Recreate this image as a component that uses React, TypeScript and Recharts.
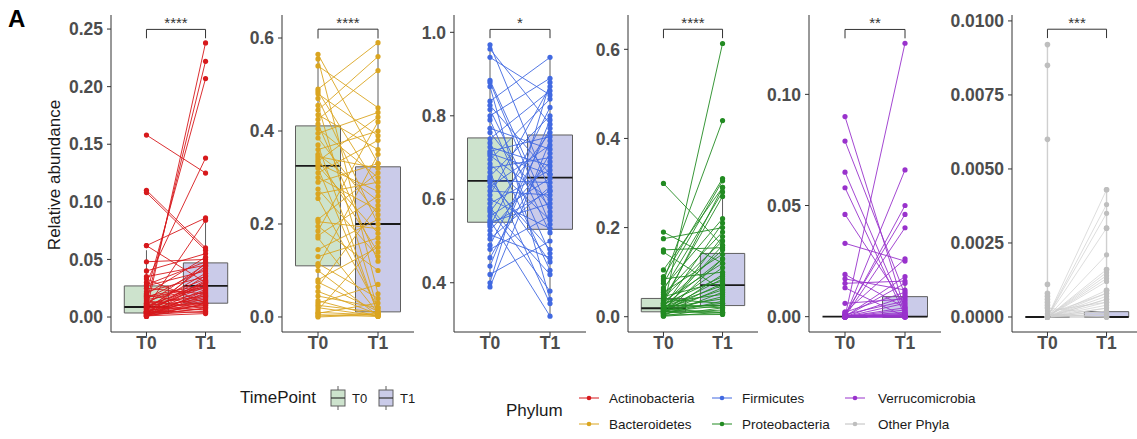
import React from 'react';
import { LineChart, Line, XAxis, YAxis, ReferenceArea, ReferenceLine } from 'recharts';

const FONT = '"Liberation Sans", Arial, Helvetica, sans-serif';

// ---------- data ----------
const timePoints = ['T0', 'T1'];
const phyla = ['Actinobacteria', 'Bacteroidetes', 'Firmicutes', 'Proteobacteria', 'Verrucomicrobia', 'Other Phyla'];
const phylumColors = ['#D7191C', '#DAA520', '#4169E1', '#228B22', '#9932CC', '#BEBEBE'];
const significance = ['****', '****', '*', '****', '**', '***'];

const actinoT0 = [0.158, 0.110, 0.108, 0.005, 0.012, 0.020, 0.030, 0.062, 0.008, 0.048, 0.040, 0.035, 0.062, 0.033, 0.028, 0.027, 0.025, 0.022, 0.020, 0.019, 0.018, 0.016, 0.015, 0.014, 0.013, 0.012, 0.011, 0.010, 0.010, 0.009, 0.009, 0.009, 0.008, 0.008, 0.007, 0.007, 0.006, 0.006, 0.005, 0.005, 0.005, 0.004, 0.004, 0.004, 0.004, 0.003, 0.003, 0.003, 0.003, 0.002, 0.002, 0.002, 0.002, 0.001, 0.001, 0.001, 0.001, 0.0005, 0.0005, 0.017];
const actinoT1 = [0.125, 0.060, 0.058, 0.238, 0.222, 0.207, 0.138, 0.086, 0.084, 0.050, 0.055, 0.045, 0.030, 0.012, 0.048, 0.040, 0.020, 0.035, 0.052, 0.010, 0.028, 0.042, 0.025, 0.008, 0.033, 0.018, 0.046, 0.027, 0.015, 0.030, 0.022, 0.006, 0.038, 0.012, 0.026, 0.017, 0.044, 0.010, 0.029, 0.014, 0.004, 0.032, 0.020, 0.009, 0.024, 0.016, 0.036, 0.007, 0.013, 0.047, 0.021, 0.011, 0.005, 0.019, 0.031, 0.008, 0.003, 0.023, 0.012, 0.026];

const bactT0 = [0.565, 0.555, 0.540, 0.490, 0.485, 0.480, 0.470, 0.455, 0.445, 0.435, 0.425, 0.415, 0.405, 0.395, 0.385, 0.370, 0.360, 0.350, 0.345, 0.340, 0.335, 0.330, 0.325, 0.320, 0.310, 0.300, 0.290, 0.275, 0.265, 0.255, 0.210, 0.205, 0.195, 0.185, 0.175, 0.170, 0.145, 0.130, 0.115, 0.110, 0.100, 0.080, 0.075, 0.065, 0.055, 0.045, 0.025, 0.020, 0.015, 0.010, 0.008, 0.005, 0.002, 0.000, 0.030, 0.035];
const bactT1 = [0.330, 0.050, 0.450, 0.590, 0.280, 0.390, 0.200, 0.015, 0.560, 0.360, 0.530, 0.120, 0.300, 0.440, 0.220, 0.005, 0.400, 0.250, 0.320, 0.140, 0.430, 0.270, 0.180, 0.010, 0.380, 0.230, 0.330, 0.130, 0.290, 0.020, 0.310, 0.190, 0.100, 0.420, 0.260, 0.008, 0.210, 0.170, 0.040, 0.350, 0.003, 0.150, 0.012, 0.240, 0.006, 0.020, 0.010, 0.002, 0.160, 0.004, 0.030, 0.001, 0.008, 0.005, 0.070, 0.001];

const firmT0 = [0.970, 0.960, 0.940, 0.885, 0.870, 0.835, 0.825, 0.815, 0.800, 0.790, 0.770, 0.760, 0.745, 0.735, 0.725, 0.715, 0.705, 0.695, 0.685, 0.675, 0.665, 0.655, 0.645, 0.640, 0.630, 0.620, 0.610, 0.600, 0.590, 0.580, 0.570, 0.560, 0.550, 0.545, 0.535, 0.525, 0.515, 0.505, 0.490, 0.480, 0.460, 0.440, 0.420, 0.400, 0.390, 0.575, 0.650, 0.710, 0.880, 0.540];
const firmT1 = [0.62, 0.78, 0.85, 0.57, 0.36, 0.94, 0.66, 0.52, 0.89, 0.47, 0.72, 0.58, 0.86, 0.43, 0.68, 0.75, 0.60, 0.84, 0.55, 0.70, 0.35, 0.80, 0.64, 0.48, 0.73, 0.61, 0.87, 0.53, 0.67, 0.42, 0.76, 0.65, 0.32, 0.59, 0.82, 0.69, 0.46, 0.63, 0.77, 0.56, 0.71, 0.79, 0.50, 0.88, 0.74, 0.38, 0.45, 0.66, 0.54, 0.62];

const protT0 = [0.299, 0.020, 0.080, 0.190, 0.175, 0.150, 0.145, 0.105, 0.090, 0.085, 0.075, 0.065, 0.060, 0.055, 0.050, 0.045, 0.042, 0.040, 0.038, 0.035, 0.032, 0.030, 0.028, 0.026, 0.024, 0.022, 0.021, 0.020, 0.019, 0.018, 0.017, 0.016, 0.015, 0.014, 0.013, 0.012, 0.011, 0.010, 0.009, 0.008, 0.007, 0.006, 0.005, 0.004, 0.003, 0.002, 0.001, 0.025, 0.012, 0.030];
const protT1 = [0.16, 0.613, 0.44, 0.12, 0.20, 0.155, 0.06, 0.29, 0.31, 0.10, 0.305, 0.22, 0.28, 0.14, 0.19, 0.08, 0.17, 0.03, 0.27, 0.12, 0.05, 0.15, 0.09, 0.02, 0.13, 0.07, 0.21, 0.04, 0.11, 0.06, 0.01, 0.085, 0.16, 0.03, 0.075, 0.045, 0.025, 0.18, 0.065, 0.015, 0.095, 0.035, 0.13, 0.005, 0.055, 0.02, 0.01, 0.025, 0.008, 0.29];

const verrT0 = [0.090, 0.079, 0.065, 0.058, 0.046, 0.033, 0.019, 0.017, 0.015, 0.013, 0.006, 0, 0, 0, 0.001, 0, 0.002, 0, 0, 0, 0.001, 0, 0, 0, 0, 0, 0, 0, 0, 0, 0, 0, 0, 0, 0, 0.0005, 0, 0.002, 0, 0];
const verrT1 = [0.003, 0.010, 0.002, 0.0005, 0.005, 0.025, 0.004, 0.012, 0.016, 0, 0.008, 0.123, 0.066, 0.050, 0.046, 0.040, 0.026, 0.018, 0.015, 0.009, 0.007, 0.006, 0.004, 0.003, 0.002, 0.001, 0, 0, 0, 0, 0, 0, 0, 0, 0, 0.0005, 0, 0.011, 0.0015, 0.0008];

const othT0 = [0, 0, 0, 0, 0, 0, 0, 0, 0, 0, 0, 0, 0, 0, 0, 0, 0, 0, 0, 0, 0.0001, 0.0002, 0.0001, 0, 0.0003, 0, 0, 0, 0, 0];
const othT1 = [0.0043, 0.0038, 0.0035, 0.0030, 0.0021, 0.0016, 0.0015, 0.0014, 0.0013, 0.0009, 0.0008, 0.0007, 0.0006, 0.0005, 0.0004, 0.0003, 0.0002, 0.0002, 0.0001, 0.0001, 0.0008, 0.0005, 0, 0, 0.0001, 0, 0.0012, 0.0006, 0.0003, 0];
// several phyla per subject stacked at one time point
const othStackT0 = [0, 0.0003, 0.0004, 0.0005, 0.0006, 0.0007, 0.0008, 0.0011, 0.0060, 0.0085, 0.0092];
const othStackT1 = [0, 0.0009, 0.0016, 0.0030, 0.0043];

// box stats: [lower whisker, q1, median, q3, upper whisker]
const actinoBoxT0 = [0, 0.0035, 0.0087, 0.027, 0.058];
const actinoBoxT1 = [0.003, 0.012, 0.027, 0.047, 0.085];
const bactBoxT0 = [0, 0.110, 0.325, 0.411, 0.565];
const bactBoxT1 = [0, 0.011, 0.200, 0.323, 0.589];
const firmBoxT0 = [0.39, 0.545, 0.644, 0.747, 0.975];
const firmBoxT1 = [0.319, 0.528, 0.652, 0.754, 0.94];
const protBoxT0 = [0, 0.011, 0.019, 0.041, 0.09];
const protBoxT1 = [0, 0.025, 0.071, 0.142, 0.295];
const verrBoxT0 = [0, 0, 0, 0, 0];
const verrBoxT1 = [0, 0, 0, 0.009, 0.0160];
const othBoxT0 = [0, 0, 0, 0, 0];
const othBoxT1 = [0, 0, 0, 0.00018, 0.00018];

// significance bracket heights [bar, tip end]
const bracketY = [[0.2497, 0.242], [0.619, 0.599], [1.007, 0.986], [0.645, 0.625], [0.1292, 0.1252], [0.00972, 0.00942]];
const yDomains = [[-0.013, 0.2622], [-0.0323, 0.6495], [0.282, 1.0415], [-0.0343, 0.677], [-0.0069, 0.1357], [-0.000507, 0.0102]];
const yTicks = [[0, 0.05, 0.1, 0.15, 0.2, 0.25], [0, 0.2, 0.4, 0.6], [0.4, 0.6, 0.8, 1.0], [0, 0.2, 0.4, 0.6], [0, 0.05, 0.1], [0, 0.0025, 0.005, 0.0075, 0.01]];
const yDecimals = [2, 1, 1, 1, 2, 4];

// ---------- layout ----------
const panelLeft = [110.5, 281.5, 454, 627.5, 809, 1011.5];
const panelWidth = [130, 132, 132, 130, 132, 130];
const AXIS_W = 72;
const BOX_FILL = ['#CDE3CD', '#CACBE9'];
const BOX_HALF = 0.375;

function boxElements(x: number, s: number[], fill: string, k: string) {
  const [lo, q1, med, q3, hi] = s;
  const els: any[] = [];
  if (q3 > q1) {
    els.push(
      <ReferenceArea key={k + 'a'} x1={x - BOX_HALF} x2={x + BOX_HALF} y1={q1} y2={q3} fill={fill} fillOpacity={1} stroke="#5E5E5E" strokeWidth={1} ifOverflow="visible" />
    );
  }
  if (hi > q3) els.push(<ReferenceLine key={k + 'h'} segment={[{ x, y: q3 }, { x, y: hi }]} stroke="#5E5E5E" strokeWidth={1} />);
  if (q1 > lo) els.push(<ReferenceLine key={k + 'l'} segment={[{ x, y: lo }, { x, y: q1 }]} stroke="#5E5E5E" strokeWidth={1} />);
  els.push(<ReferenceLine key={k + 'm'} segment={[{ x: x - BOX_HALF, y: med }, { x: x + BOX_HALF, y: med }]} stroke="#1A1A1A" strokeWidth={1.8} />);
  return els;
}

type PanelProps = {
  idx: number;
  t0: number[];
  t1: number[];
  box0: number[];
  box1: number[];
  stack0?: number[];
  stack1?: number[];
  lineColor?: string;
  lineWidth?: number;
};

function Panel({ idx, t0, t1, box0, box1, stack0, stack1, lineColor, lineWidth }: PanelProps) {
  const color = phylumColors[idx];
  const lc = lineColor || color;
  const lw = lineWidth || 0.9;
  const pairs = t0.map((v, i) => [{ x: 1, y: v }, { x: 2, y: t1[i] }]);
  const stacks: { x: number; y: number }[][] = [];
  if (stack0) stacks.push(stack0.map((v) => ({ x: 1, y: v })));
  if (stack1) stacks.push(stack1.map((v) => ({ x: 2, y: v })));
  const [bt, be] = bracketY[idx];
  const tickStyle = { fill: '#4D4D4D', fontSize: 17.5, fontWeight: 700, fontFamily: FONT };
  return (
    <div style={{ position: 'absolute', left: panelLeft[idx] - AXIS_W, top: 0 }}>
      <LineChart width={AXIS_W + panelWidth[idx]} height={362} margin={{ top: 15, right: 0, bottom: 0, left: 0 }}>
        <XAxis
          type="number"
          dataKey="x"
          domain={[0.4, 2.6]}
          ticks={[1, 2]}
          tickFormatter={(v: number) => timePoints[v - 1]}
          allowDataOverflow
          height={30}
          tick={tickStyle}
          tickSize={4}
          tickMargin={1}
          stroke="#333333"
          axisLine={{ stroke: '#333333' }}
          tickLine={{ stroke: '#333333' }}
        />
        <YAxis
          type="number"
          dataKey="y"
          domain={yDomains[idx]}
          ticks={yTicks[idx]}
          allowDataOverflow
          width={AXIS_W}
          tickFormatter={(v: number) => v.toFixed(yDecimals[idx])}
          tick={tickStyle}
          tickSize={4}
          tickMargin={4}
          interval={0}
          stroke="#333333"
          axisLine={{ stroke: '#333333' }}
          tickLine={{ stroke: '#333333' }}
        />
        {boxElements(1, box0, BOX_FILL[0], 'b0')}
        {boxElements(2, box1, BOX_FILL[1], 'b1')}
        {stacks.map((d, i) => (
          <Line key={'s' + i} data={d} dataKey="y" type="linear" stroke={lc} strokeWidth={1.4} dot={{ r: 2.8, fill: color, stroke: color, strokeWidth: 0 }} activeDot={false} isAnimationActive={false} />
        ))}
        {pairs.map((d, i) => (
          <Line key={'p' + i} data={d} dataKey="y" type="linear" stroke={lc} strokeWidth={lw} dot={{ r: 2.6, fill: color, stroke: color, strokeWidth: 0 }} activeDot={false} isAnimationActive={false} />
        ))}
        <ReferenceLine
          segment={[{ x: 1, y: bt }, { x: 2, y: bt }]}
          stroke="#333333"
          strokeWidth={1}
          ifOverflow="visible"
          label={{ value: significance[idx], position: 'top', offset: 1, fill: '#333333', fontSize: 15, fontFamily: FONT }}
        />
        <ReferenceLine segment={[{ x: 1, y: bt }, { x: 1, y: be }]} stroke="#333333" strokeWidth={1} ifOverflow="visible" />
        <ReferenceLine segment={[{ x: 2, y: bt }, { x: 2, y: be }]} stroke="#333333" strokeWidth={1} ifOverflow="visible" />
      </LineChart>
    </div>
  );
}

function Legend() {
  const keyCols = [579, 712, 845];
  const textCols = [609, 742, 878];
  const rows = [398, 424];
  const order = [[0, 1], [2, 3], [4, 5]];
  const tpKeys = [338, 386];
  const tpText = [352, 400];
  return (
    <svg width={1137} height={439} style={{ position: 'absolute', left: 0, top: 0, pointerEvents: 'none' }} fontFamily={FONT}>
      <text x={8} y={27} fontSize={24} fontWeight={700} fill="#000">A</text>
      <text transform="translate(59.5,175) rotate(-90)" textAnchor="middle" fontSize={17} fill="#1A1A1A">Relative abundance</text>
      <text x={240} y={403} fontSize={17} fill="#1A1A1A">TimePoint</text>
      {tpKeys.map((cx, i) => (
        <g key={'tp' + i}>
          <line x1={cx} x2={cx} y1={386} y2={410} stroke="#5E5E5E" strokeWidth={1} />
          <rect x={cx - 7} y={390} width={14} height={16} fill={BOX_FILL[i]} stroke="#5E5E5E" strokeWidth={1} />
          <line x1={cx - 7} x2={cx + 7} y1={398} y2={398} stroke="#333" strokeWidth={1.2} />
          <text x={tpText[i]} y={403} fontSize={13} fill="#1A1A1A">{timePoints[i]}</text>
        </g>
      ))}
      <text x={506} y={416} fontSize={17} fill="#1A1A1A">Phylum</text>
      {order.map((col, ci) =>
        col.map((pi, ri) => (
          <g key={'ph' + pi}>
            <line x1={keyCols[ci]} x2={keyCols[ci] + 20} y1={rows[ri]} y2={rows[ri]} stroke={phylumColors[pi]} strokeWidth={1} />
            <circle cx={keyCols[ci] + 10} cy={rows[ri]} r={2.3} fill={phylumColors[pi]} />
            <text x={textCols[ci]} y={rows[ri] + 5} fontSize={13.5} fill="#1A1A1A">{phyla[pi]}</text>
          </g>
        ))
      )}
    </svg>
  );
}

export default function App() {
  return (
    <div style={{ position: 'absolute', left: 0, top: 0, width: 1137, height: 439, background: '#fff', overflow: 'hidden' }}>
      <Legend />
      <Panel idx={0} t0={actinoT0} t1={actinoT1} box0={actinoBoxT0} box1={actinoBoxT1} />
      <Panel idx={1} t0={bactT0} t1={bactT1} box0={bactBoxT0} box1={bactBoxT1} />
      <Panel idx={2} t0={firmT0} t1={firmT1} box0={firmBoxT0} box1={firmBoxT1} />
      <Panel idx={3} t0={protT0} t1={protT1} box0={protBoxT0} box1={protBoxT1} />
      <Panel idx={4} t0={verrT0} t1={verrT1} box0={verrBoxT0} box1={verrBoxT1} />
      <Panel idx={5} t0={othT0} t1={othT1} box0={othBoxT0} box1={othBoxT1} stack0={othStackT0} stack1={othStackT1} lineColor="#CFCFCF" lineWidth={0.7} />
    </div>
  );
}
